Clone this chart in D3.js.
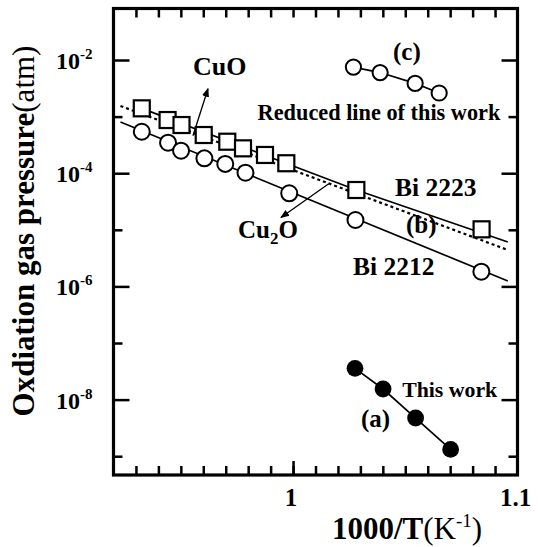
<!DOCTYPE html>
<html>
<head>
<meta charset="utf-8">
<script src="https://cdn.jsdelivr.net/npm/d3@7"></script>
<style>
  html, body { margin: 0; padding: 0; background: #fff; }
  svg { display: block; }
  text { font-family: "Liberation Serif", "Times New Roman", serif; fill: #000; }
</style>
</head>
<body>
<svg id="chart" width="540" height="547"></svg>
<script>
// ---------- data ----------
const bi2223X = [0.9326, 0.9441, 0.9503, 0.9602, 0.9707, 0.9777, 0.9875, 0.9970, 1.0282, 1.0840];
const bi2223P = [1.40e-3, 8.7e-4, 7.1e-4, 4.73e-4, 3.6e-4, 2.75e-4, 2.1e-4, 1.5e-4, 5.05e-5, 1.02e-5];

const bi2212X = [0.9326, 0.9443, 0.9501, 0.9605, 0.9698, 0.9788, 0.9983, 1.0278, 1.0839];
const bi2212P = [5.4e-4, 3.46e-4, 2.5e-4, 1.83e-4, 1.46e-4, 1.02e-4, 4.42e-5, 1.49e-5, 1.82e-6];

const reducedX = [1.0269, 1.0388, 1.0544, 1.0651];          // (c)
const reducedP = [7.5e-3, 6.0e-3, 3.86e-3, 2.61e-3];

const thisWorkX = [1.0276, 1.0401, 1.0546, 1.0702];          // (a)
const thisWorkP = [3.57e-8, 1.54e-8, 4.73e-9, 1.32e-9];

// fitted lines
const bi2223LineX = [0.9326, 1.0282, 1.0957];
const bi2223LineP = [1.40e-3, 5.05e-5, 6.08e-6];
const lineBX = [0.9231, 1.0957];                              // (b) dotted
const lineBP = [1.54e-3, 4.4e-6];
const bi2212LineX = [0.9231, 1.0957];
const bi2212LineP = [8.04e-4, 1.245e-6];

// axes
const xDomain = [0.92, 1.10];
const yDomain = [Math.pow(10, -9.332), Math.pow(10, -1.09)];
const xMinorTicks = [0.93, 0.94, 0.95, 0.96, 0.97, 0.98, 0.99, 1.00, 1.01, 1.02, 1.03, 1.04, 1.05, 1.06, 1.07, 1.08, 1.09];
const xMajorTicks = [1.00];
const xTickLabelValues = [1.00, 1.10];
const xTickLabels = ["1", "1.1"];
const yMajorTicks = [1e-2, 1e-4, 1e-6, 1e-8];
const yMajorExp = ["-2", "-4", "-6", "-8"];
const yMinorTicks = [1e-3, 1e-5, 1e-7, 1e-9];

// annotations (data coordinates)
const labels = [
  { text: "CuO", x: 0.9554, p: 5.43e-3, size: 26, anchor: "start" },
  { text: "(c)", x: 1.0507, p: 1.0e-2, size: 25, anchor: "middle" },
  { text: "Reduced line of this work", x: 0.9842, p: 8.7e-4, size: 22.3, anchor: "start" },
  { text: "Bi 2223", x: 1.0454, p: 3.95e-5, size: 25.5, anchor: "start" },
  { text: "(b)", x: 1.0503, p: 8.77e-6, size: 25, anchor: "start" },
  { text: "Bi 2212", x: 1.0267, p: 1.59e-6, size: 25.5, anchor: "start" },
  { text: "This work", x: 1.0486, p: 1.125e-8, size: 21.8, anchor: "start" },
  { text: "(a)", x: 1.0303, p: 3.28e-9, size: 25, anchor: "start" }
];
const cu2oLabel = { x: 0.9755, p: 7.16e-6 };
const arrows = [
  { x1: 0.9554, p1: 4.6e-4, x2: 0.9621, p2: 3.11e-3 },   // CuO
  { x1: 1.0159, p1: 6.52e-5, x2: 0.9946, p2: 1.65e-5 }    // Cu2O
];

// ---------- chart ----------
const svg = d3.select("#chart");
svg.append("rect").attr("width", 540).attr("height", 547).attr("fill", "#fff");

const pLeft = 113.5, pRight = 517.5, pTop = 8.5, pBottom = 475;
const x = d3.scaleLinear().domain(xDomain).range([pLeft, pRight]);
const y = d3.scaleLog().domain(yDomain).range([pBottom, pTop]);

const defs = svg.append("defs");
defs.append("marker").attr("id", "ah")
  .attr("viewBox", "0 0 10 10").attr("refX", 9).attr("refY", 5)
  .attr("markerWidth", 9).attr("markerHeight", 9)
  .attr("markerUnits", "userSpaceOnUse").attr("orient", "auto")
  .append("path").attr("d", "M0,1 L10,5 L0,9 Z").attr("fill", "#000");

// axes ticks
function styleAxis(g) {
  g.select(".domain").remove();
  g.selectAll(".tick line").attr("stroke", "#000").attr("stroke-width", 2.5);
  g.selectAll(".tick text").remove();
}
svg.append("g").attr("transform", `translate(${pLeft},0)`)
  .call(d3.axisRight(y).tickValues(yMajorTicks).tickSize(16).tickFormat(() => "")).call(styleAxis);
svg.append("g").attr("transform", `translate(${pLeft},0)`)
  .call(d3.axisRight(y).tickValues(yMinorTicks).tickSize(9).tickFormat(() => "")).call(styleAxis);
svg.append("g").attr("transform", `translate(${pRight},0)`)
  .call(d3.axisLeft(y).tickValues(yMajorTicks).tickSize(16).tickFormat(() => "")).call(styleAxis);
svg.append("g").attr("transform", `translate(${pRight},0)`)
  .call(d3.axisLeft(y).tickValues(yMinorTicks).tickSize(9).tickFormat(() => "")).call(styleAxis);
svg.append("g").attr("transform", `translate(0,${pBottom})`)
  .call(d3.axisTop(x).tickValues(xMinorTicks).tickSize(9).tickFormat(() => "")).call(styleAxis);
svg.append("g").attr("transform", `translate(0,${pBottom})`)
  .call(d3.axisTop(x).tickValues(xMajorTicks).tickSize(14).tickFormat(() => "")).call(styleAxis);
svg.append("g").attr("transform", `translate(0,${pTop})`)
  .call(d3.axisBottom(x).tickValues(xMinorTicks).tickSize(9).tickFormat(() => "")).call(styleAxis);

// frame
svg.append("rect").attr("x", pLeft).attr("y", pTop).attr("width", pRight - pLeft).attr("height", pBottom - pTop)
  .attr("fill", "none").attr("stroke", "#000").attr("stroke-width", 3.2);

// tick labels
yMajorTicks.forEach((v, i) => {
  const t = svg.append("text").attr("x", pLeft - 21).attr("y", y(v) + 9)
    .attr("text-anchor", "end").attr("font-weight", "bold").attr("font-size", 24);
  t.append("tspan").text("10");
  t.append("tspan").attr("dy", -10).attr("font-size", 15).text(yMajorExp[i]);
});
xTickLabelValues.forEach((v, i) => {
  svg.append("text").attr("x", x(v) - 2).attr("y", pBottom + 31)
    .attr("text-anchor", "middle").attr("font-weight", "bold").attr("font-size", 25)
    .text(xTickLabels[i]);
});

// axis titles
const yt = svg.append("text").attr("transform", "translate(34,231) rotate(-90)")
  .attr("text-anchor", "middle").attr("font-size", 31);
yt.append("tspan").attr("font-weight", "bold").text("Oxdiation gas pressure");
yt.append("tspan").attr("font-weight", "normal").text("(atm)");

const xt = svg.append("text").attr("x", 407).attr("y", 539)
  .attr("text-anchor", "middle").attr("font-size", 31);
xt.append("tspan").attr("font-weight", "bold").text("1000/T");
xt.append("tspan").attr("font-weight", "normal").text("(K");
xt.append("tspan").attr("font-weight", "normal").attr("font-size", 19).attr("dy", -12).text("-1");
xt.append("tspan").attr("font-weight", "normal").attr("dy", 12).text(")");

// lines
const lineGen = d3.line().x(d => x(d[0])).y(d => y(d[1]));
const zip = (a, b) => a.map((v, i) => [v, b[i]]);
svg.append("path").attr("d", lineGen(zip(lineBX, lineBP)))
  .attr("fill", "none").attr("stroke", "#000").attr("stroke-width", 2.2).attr("stroke-dasharray", "3,3");
svg.append("path").attr("d", lineGen(zip(bi2223LineX, bi2223LineP)))
  .attr("fill", "none").attr("stroke", "#000").attr("stroke-width", 1.7);
svg.append("path").attr("d", lineGen(zip(bi2212LineX, bi2212LineP)))
  .attr("fill", "none").attr("stroke", "#000").attr("stroke-width", 1.7);
svg.append("path").attr("d", lineGen(zip(reducedX, reducedP)))
  .attr("fill", "none").attr("stroke", "#000").attr("stroke-width", 1.7);
svg.append("path").attr("d", lineGen(zip(thisWorkX, thisWorkP)))
  .attr("fill", "none").attr("stroke", "#000").attr("stroke-width", 1.7);

// arrows
arrows.forEach(a => {
  svg.append("line").attr("x1", x(a.x1)).attr("y1", y(a.p1)).attr("x2", x(a.x2)).attr("y2", y(a.p2))
    .attr("stroke", "#000").attr("stroke-width", 1.3).attr("marker-end", "url(#ah)");
});

// markers
const sq = 16;
svg.append("g").selectAll("rect").data(zip(bi2223X, bi2223P)).join("rect")
  .attr("x", d => x(d[0]) - sq / 2).attr("y", d => y(d[1]) - sq / 2)
  .attr("width", sq).attr("height", sq)
  .attr("fill", "#fff").attr("stroke", "#000").attr("stroke-width", 2.2);
svg.append("g").selectAll("circle").data(zip(bi2212X, bi2212P)).join("circle")
  .attr("cx", d => x(d[0])).attr("cy", d => y(d[1])).attr("r", 8)
  .attr("fill", "#fff").attr("stroke", "#000").attr("stroke-width", 2);
svg.append("g").selectAll("circle").data(zip(reducedX, reducedP)).join("circle")
  .attr("cx", d => x(d[0])).attr("cy", d => y(d[1])).attr("r", 7.6)
  .attr("fill", "#fff").attr("stroke", "#000").attr("stroke-width", 2);
svg.append("g").selectAll("circle").data(zip(thisWorkX, thisWorkP)).join("circle")
  .attr("cx", d => x(d[0])).attr("cy", d => y(d[1])).attr("r", 8.4)
  .attr("fill", "#000");

// labels
labels.forEach(l => {
  svg.append("text").attr("x", x(l.x)).attr("y", y(l.p))
    .attr("text-anchor", l.anchor).attr("font-weight", "bold").attr("font-size", l.size)
    .text(l.text);
});
const c2 = svg.append("text").attr("x", x(cu2oLabel.x)).attr("y", y(cu2oLabel.p))
  .attr("font-weight", "bold").attr("font-size", 25);
c2.append("tspan").text("Cu");
c2.append("tspan").attr("font-size", 17).attr("dy", 6).text("2");
c2.append("tspan").attr("dy", -6).text("O");
</script>
</body>
</html>
